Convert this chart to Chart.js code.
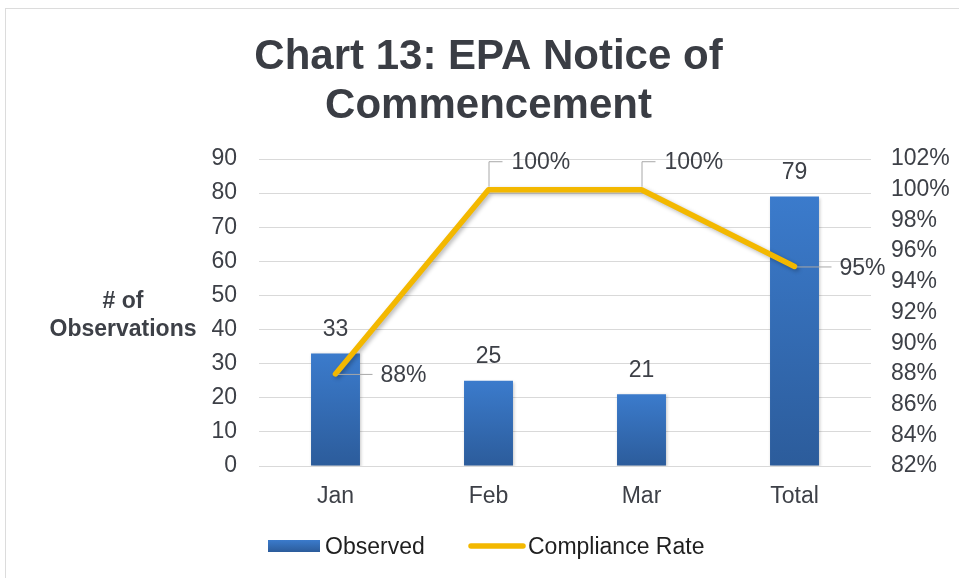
<!DOCTYPE html>
<html><head><meta charset="utf-8">
<script src="https://cdn.jsdelivr.net/npm/chart.js@4"></script>
<style>
html,body{margin:0;padding:0;background:#fff;}
#wrap{position:relative;width:959px;height:578px;overflow:hidden;}
#frame{position:absolute;left:5px;top:8px;width:1000px;height:1000px;border-left:1px solid #dcdcdc;border-top:1px solid #dcdcdc;pointer-events:none;}
</style></head><body>
<div id="wrap"><canvas id="c" width="959" height="578"></canvas><div id="frame"></div></div>
<script>
const titleLines = ['Chart 13: EPA Notice of', 'Commencement'];
const categories = ['Jan', 'Feb', 'Mar', 'Total'];
const observed = [33, 25, 21, 79];
const complianceRate = [88, 100, 100, 95];
const seriesNames = ['Observed', 'Compliance Rate'];
const yAxisTitle = ['# of', 'Observations'];
const leftTickValues = [0, 10, 20, 30, 40, 50, 60, 70, 80, 90];
const rightTickValues = [82, 84, 86, 88, 90, 92, 94, 96, 98, 100, 102];

const FONT = "'Liberation Sans', Arial, Helvetica, sans-serif";
const TXT = '#3d4047';
const BAR_TOP = '#3b7bcc';
const BAR_BOT = '#2c5c9b';
const GOLD = '#f3b800';

function barGradient(ctx, top, bottom) {
  const g = ctx.createLinearGradient(0, top, 0, bottom);
  g.addColorStop(0, BAR_TOP);
  g.addColorStop(1, BAR_BOT);
  return g;
}

const shadowPlugin = {
  id: 'shadows',
  beforeDatasetDraw(chart, args) {
    const ctx = chart.ctx;
    ctx.save();
    if (args.meta.type === 'line') {
      ctx.shadowColor = 'rgba(0,0,0,0.28)';
      ctx.shadowBlur = 4;
      ctx.shadowOffsetX = 2;
      ctx.shadowOffsetY = 2;
    } else {
      ctx.shadowColor = 'rgba(0,0,0,0.22)';
      ctx.shadowBlur = 3;
      ctx.shadowOffsetX = 1;
      ctx.shadowOffsetY = 1;
    }
  },
  afterDatasetDraw(chart) { chart.ctx.restore(); }
};

const labelPlugin = {
  id: 'valueLabels',
  afterDatasetsDraw(chart, args, opts) {
    const ctx = chart.ctx;
    ctx.save();
    ctx.font = '23px ' + FONT;
    ctx.fillStyle = TXT;
    const bm = chart.getDatasetMeta(0);
    ctx.textAlign = 'center';
    ctx.textBaseline = 'middle';
    bm.data.forEach((el, i) => {
      ctx.fillText(String(observed[i]), el.x, el.y - 24);
    });
    const lm = chart.getDatasetMeta(1);
    ctx.strokeStyle = '#a8a8a8';
    ctx.lineWidth = 1;
    lm.data.forEach((el, i) => {
      const txt = complianceRate[i] + '%';
      const place = opts.placement[i];
      ctx.textAlign = 'left';
      ctx.beginPath();
      if (place === 'right') {
        ctx.moveTo(el.x + 2, el.y + 0.5);
        ctx.lineTo(el.x + 37, el.y + 0.5);
        ctx.stroke();
        ctx.fillText(txt, el.x + 45, el.y + 2);
      } else {
        ctx.moveTo(el.x + 0.5, el.y - 3);
        ctx.lineTo(el.x + 0.5, el.y - 28);
        ctx.lineTo(el.x + 14, el.y - 28);
        ctx.stroke();
        ctx.fillText(txt, el.x + 23, el.y - 27);
      }
    });
    ctx.restore();
  }
};

const sidePlugin = {
  id: 'sideText',
  afterDraw(chart) {
    const ctx = chart.ctx;
    ctx.save();
    ctx.font = 'bold 23px ' + FONT;
    ctx.fillStyle = TXT;
    ctx.textAlign = 'center';
    ctx.textBaseline = 'middle';
    ctx.fillText(yAxisTitle[0], 123, 302);
    ctx.fillText(yAxisTitle[1], 123, 330);
    const ly = 546;
    ctx.fillStyle = barGradient(ctx, ly - 6, ly + 6);
    ctx.fillRect(268, ly - 6, 52, 12);
    ctx.strokeStyle = GOLD;
    ctx.lineWidth = 5.5;
    ctx.lineCap = 'round';
    ctx.beginPath();
    ctx.moveTo(471, ly);
    ctx.lineTo(523, ly);
    ctx.stroke();
    ctx.font = '23px ' + FONT;
    ctx.fillStyle = '#1f1f1f';
    ctx.textAlign = 'left';
    ctx.fillText(seriesNames[0], 325, ly + 1.5);
    ctx.fillText(seriesNames[1], 528, ly + 1.5);
    ctx.restore();
  }
};

new Chart(document.getElementById('c'), {
  data: {
    labels: categories,
    datasets: [
      {
        type: 'bar',
        label: seriesNames[0],
        data: observed,
        yAxisID: 'y',
        order: 2,
        backgroundColor(c) {
          const ch = c.chart;
          const ys = ch.scales.y;
          if (!ch.chartArea || !ys || c.dataIndex === undefined) return BAR_TOP;
          const v = observed[c.dataIndex];
          return barGradient(ch.ctx, ys.getPixelForValue(v), ys.getPixelForValue(0));
        },
        borderWidth: 0,
        categoryPercentage: 1,
        barPercentage: 0.32
      },
      {
        type: 'line',
        label: seriesNames[1],
        data: complianceRate,
        yAxisID: 'y1',
        order: 1,
        borderColor: GOLD,
        borderWidth: 5.5,
        borderJoinStyle: 'round',
        borderCapStyle: 'round',
        pointRadius: 0,
        tension: 0,
        fill: false
      }
    ]
  },
  options: {
    responsive: false,
    animation: false,
    devicePixelRatio: 1,
    layout: { padding: { top: 0, left: 18, right: 0, bottom: 72 } },
    plugins: {
      legend: { display: false },
      tooltip: { enabled: false },
      title: {
        display: true,
        text: titleLines,
        color: '#3a3d44',
        font: { family: FONT, size: 42, weight: 'bold', lineHeight: 1.167 },
        padding: { top: 32.5, bottom: 28.5 }
      },
      valueLabels: { placement: ['right', 'above', 'above', 'right'] }
    },
    scales: {
      x: {
        grid: { display: false, drawTicks: false },
        border: { display: false },
        ticks: { color: TXT, font: { family: FONT, size: 23 }, padding: 17 },
        afterFit(s) { s.height = 40; }
      },
      y: {
        position: 'left',
        min: leftTickValues[0],
        max: leftTickValues[leftTickValues.length - 1],
        afterBuildTicks(s) { s.ticks = leftTickValues.map(v => ({ value: v })); },
        grid: { color: '#d9d9d9', lineWidth: 1, drawTicks: false },
        border: { display: false },
        ticks: { color: TXT, font: { family: FONT, size: 23 }, padding: 22 },
        afterFit(s) { s.width = 241; }
      },
      y1: {
        position: 'right',
        min: rightTickValues[0],
        max: rightTickValues[rightTickValues.length - 1],
        afterBuildTicks(s) { s.ticks = rightTickValues.map(v => ({ value: v })); },
        grid: { display: false, drawTicks: false },
        border: { display: false },
        ticks: { color: TXT, font: { family: FONT, size: 23 }, padding: 20, callback: v => v + '%' },
        afterFit(s) { s.width = 88; }
      }
    }
  },
  plugins: [shadowPlugin, labelPlugin, sidePlugin]
});
</script>
</body></html>
